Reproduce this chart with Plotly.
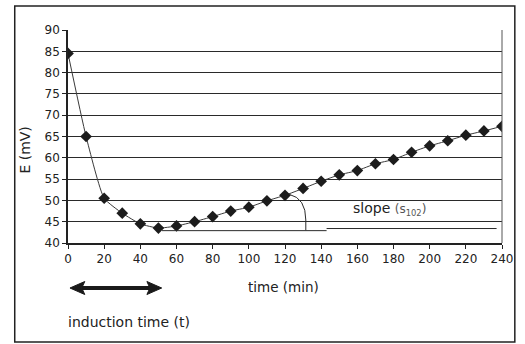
import plotly.graph_objects as go

# ---- data ----
time_min = [0, 10, 20, 30, 40, 50, 60, 70, 80, 90, 100, 110, 120, 130, 140,
            150, 160, 170, 180, 190, 200, 210, 220, 230, 240]
E_mV = [84.5, 65.0, 50.5, 47.0, 44.5, 43.5, 44.0, 45.0, 46.2, 47.5, 48.4, 49.9,
        51.2, 52.8, 54.5, 56.0, 57.0, 58.6, 59.6, 61.3, 62.8, 64.0, 65.3, 66.3, 67.4]
x_ticks = list(range(0, 241, 20))
y_ticks = list(range(40, 91, 5))

# annotation geometry (data units)
baseline1 = ([52, 143], [42.9, 42.9])
baseline2 = ([143, 237], [43.4, 43.4])
arc_path = "M 122.5,51.4 Q 131.5,50.5 131.5,45.4 L 131.5,43.0"
induction = (1, 52)

W, H = 525, 344
L, R, T, B = 68, 17, 30, 101
pw, ph = W - L - R, H - T - B

def px(xp):
    return (xp - L) / pw

def py(yp):
    return (H - B - yp) / ph

FONT = "DejaVu Sans"

fig = go.Figure()
fig.add_trace(go.Scatter(
    x=time_min, y=E_mV, mode="lines+markers",
    line=dict(color="#3a3a3a", width=1, shape="spline", smoothing=0.5),
    marker=dict(symbol="diamond", size=9, color="#1c1c1c"),
    showlegend=False, hoverinfo="skip"))

for bx, by in (baseline1, baseline2):
    fig.add_trace(go.Scatter(x=bx, y=by, mode="lines",
                             line=dict(color="#2a2a2a", width=1),
                             showlegend=False, hoverinfo="skip"))

fig.add_shape(type="path", path=arc_path, xref="x", yref="y",
              line=dict(color="#2a2a2a", width=1))

# right border of plot area (thin)
fig.add_shape(type="line", xref="paper", yref="paper", x0=1, x1=1, y0=0, y1=1,
              line=dict(color="#555", width=1))

# outer frame
fig.add_shape(type="rect", xref="paper", yref="paper",
              x0=px(14), x1=px(521), y0=py(342), y1=py(6),
              line=dict(color="#222", width=1.5), fillcolor="rgba(0,0,0,0)",
              layer="below")

# induction-time double arrow (shaft + two heads, paper coords)
ay = py(288)
hh = 6.5 / ph          # half head height
a0, a1 = px(70), px(163)
hl = 15 / pw           # head length
notch = 3 / pw
fig.add_shape(type="line", xref="paper", yref="paper",
              x0=a0 + hl - notch, x1=a1 - hl + notch, y0=ay, y1=ay,
              line=dict(color="#1a1a1a", width=4))
fig.add_shape(type="path", xref="paper", yref="paper",
              path=f"M {a0},{ay} L {a0+hl},{ay+hh} L {a0+hl-notch},{ay} L {a0+hl},{ay-hh} Z",
              fillcolor="#1a1a1a", line=dict(color="#1a1a1a", width=1))
fig.add_shape(type="path", xref="paper", yref="paper",
              path=f"M {a1},{ay} L {a1-hl},{ay+hh} L {a1-hl+notch},{ay} L {a1-hl},{ay-hh} Z",
              fillcolor="#1a1a1a", line=dict(color="#1a1a1a", width=1))

fig.add_annotation(x=px(66), y=py(322), xref="paper", yref="paper",
                   text="induction time (t)", showarrow=False,
                   xanchor="left", yanchor="middle",
                   font=dict(family=FONT, size=14, color="#222"))
fig.add_annotation(x=px(248), y=py(287), xref="paper", yref="paper",
                   text="time (min)", showarrow=False,
                   xanchor="left", yanchor="middle",
                   font=dict(family=FONT, size=13.5, color="#222"))
fig.add_annotation(x=px(24), y=py(150), xref="paper", yref="paper",
                   text="E (mV)", showarrow=False, textangle=-90,
                   xanchor="center", yanchor="middle",
                   font=dict(family=FONT, size=14, color="#222"))
fig.add_annotation(x=px(355), y=py(209), xref="paper", yref="paper",
                   text="slope <span style='font-size:12px;color:#555'>(s<sub>102</sub>)</span>",
                   showarrow=False, xanchor="left", yanchor="middle",
                   font=dict(family=FONT, size=14, color="#222"))

fig.update_layout(
    width=W, height=H, margin=dict(l=L, r=R, t=T, b=B),
    paper_bgcolor="white", plot_bgcolor="white",
    font=dict(family=FONT, size=12, color="#222"),
    xaxis=dict(range=[0, 240], tickvals=x_ticks, ticks="outside", ticklen=4,
               tickcolor="#222", showgrid=False, zeroline=False,
               showline=True, linecolor="#222", linewidth=1.5,
               tickfont=dict(family=FONT, size=12)),
    yaxis=dict(range=[40, 90], tickvals=y_ticks, ticks="outside", ticklen=4,
               tickcolor="#222", showgrid=True, gridcolor="#2a2a2a", gridwidth=1,
               zeroline=False, showline=True, linecolor="#222", linewidth=1.5,
               tickfont=dict(family=FONT, size=12)),
)

fig.write_html("out.html", config={"displayModeBar": False},
               post_script="document.body.style.margin='0';document.body.style.overflow='hidden';")
